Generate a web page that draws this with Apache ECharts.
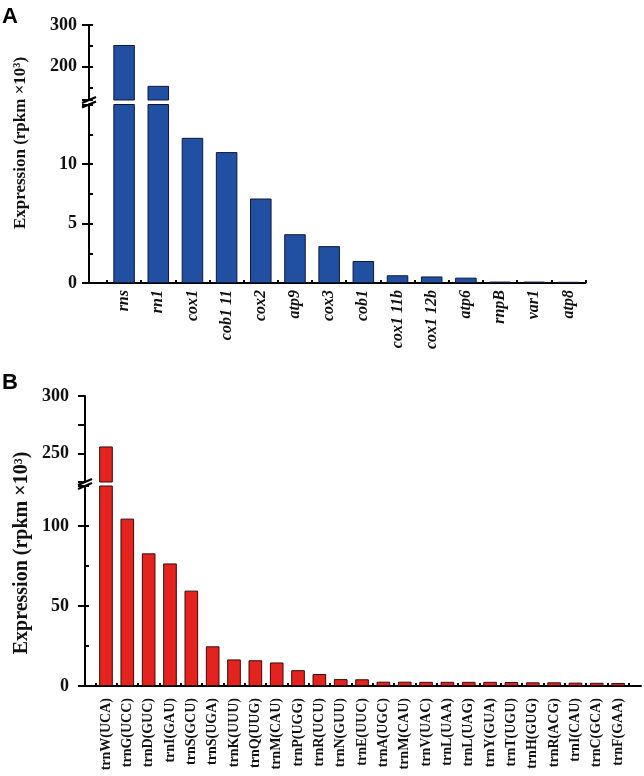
<!DOCTYPE html>
<html><head><meta charset="utf-8">
<script src="https://cdn.jsdelivr.net/npm/echarts@6/dist/echarts.min.js"></script>
<style>html,body{margin:0;padding:0;background:#fff}#c{width:644px;height:776px}</style>
</head><body><div id="c"></div>
<script>
// ---- data ----
const genesA = ['rns','rn1','cox1','cob1 11','cox2','atp9','cox3','cob1','cox1 11b','cox1 12b','atp6','rnpB','var1','atp8'];
const exprA  = [252, 154, 12.2, 11.0, 7.1, 4.1, 3.1, 1.85, 0.65, 0.55, 0.45, 0.12, 0.12, 0.1];
const trnaB  = ['trnW(UCA)','trnG(UCC)','trnD(GUC)','trnI(GAU)','trnS(GCU)','trnS(UGA)','trnK(UUU)','trnQ(UUG)','trnM(CAU)','trnP(UGG)','trnR(UCU)','trnN(GUU)','trnE(UUC)','trnA(UGC)','trnM(CAU)','trnV(UAC)','trnL(UAA)','trnL(UAG)','trnY(GUA)','trnT(UGU)','trnH(GUG)','trnR(ACG)','trnI(CAU)','trnC(GCA)','trnF(GAA)'];
const exprB  = [256, 104.6, 82.9, 76.6, 59.6, 24.8, 16.6, 16.1, 14.7, 9.9, 7.5, 4.3, 4.2, 2.7, 2.7, 2.6, 2.6, 2.6, 2.6, 2.5, 2.3, 2.3, 2.1, 2.0, 1.9];
const A_UPPER_RANGE = [120, 300], A_LOWER_RANGE = [0, 15];
const B_UPPER_RANGE = [225, 300], B_LOWER_RANGE = [0, 125];
const A_UPPER_LABELS = [200, 300], A_LOWER_LABELS = [0, 5, 10];
const B_UPPER_LABELS = [250, 300], B_LOWER_LABELS = [0, 50, 100];
const Y_TITLE = 'Expression (rpkm ×10³)';

// ---- layout ----
const LA = {axisX: 89, barX: 107, right: 585.5, upTop: 25, upH: 75, lowTop: 104.5, lowH: 178.5};
const LB = {axisX: 85, barX: 95.3, barRight: 628.8, right: 641, upTop: 396, upH: 86, lowTop: 486, lowH: 200};

const serif = 'Liberation Serif, Times New Roman, serif';
const chart = echarts.init(document.getElementById('c'), null, {renderer: 'canvas'});

function lbl(list){ return v => list.indexOf(v) >= 0 ? String(v) : ''; }
const tickLbl = {fontFamily: serif, fontWeight: 'bold', fontSize: 18, color: '#111'};
const lineStyle = {color: '#000', width: 2};

const grids = [
  {left: LA.barX, width: LA.right - LA.barX, top: LA.upTop, height: LA.upH},
  {left: LA.barX, width: LA.right - LA.barX, top: LA.lowTop, height: LA.lowH},
  {left: LA.axisX, width: LA.right - LA.axisX, top: LA.upTop, height: LA.upH},
  {left: LA.axisX, width: LA.right - LA.axisX, top: LA.lowTop, height: LA.lowH},
  {left: LB.barX, width: LB.barRight - LB.barX, top: LB.upTop, height: LB.upH},
  {left: LB.barX, width: LB.barRight - LB.barX, top: LB.lowTop, height: LB.lowH},
  {left: LB.axisX, width: LB.right - LB.axisX, top: LB.upTop, height: LB.upH},
  {left: LB.axisX, width: LB.right - LB.axisX, top: LB.lowTop, height: LB.lowH}
];

const hiddenCat = (g, data) => ({type: 'category', gridIndex: g, data, show: false});
const catAxis = (g, data, labelStyle, margin) => ({
  type: 'category', gridIndex: g, data,
  axisLine: {show: false},
  axisTick: {show: true, inside: true, length: 3, lineStyle: {color: '#000', width: 2}},
  axisLabel: Object.assign({interval: 0, rotate: 90, margin, color: '#111'}, labelStyle),
  splitLine: {show: false}
});
const lineX = (g) => ({type: 'value', gridIndex: g, min: 0, max: 1, axisLine: {show: true, onZero: false, lineStyle}, axisTick: {show: false}, axisLabel: {show: false}, splitLine: {show: false}});
const hideX = (g) => ({type: 'value', gridIndex: g, min: 0, max: 1, show: false});

const xAxis = [
  hiddenCat(0, genesA),
  catAxis(1, genesA, {fontFamily: serif, fontWeight: 'bold', fontStyle: 'italic', fontSize: 16}, 7),
  hideX(2), lineX(3),
  hiddenCat(4, trnaB),
  catAxis(5, trnaB, {fontFamily: serif, fontWeight: 'bold', fontSize: 14}, 12),
  hideX(6), lineX(7)
];

const hideY = (g, r) => ({type: 'value', gridIndex: g, min: r[0], max: r[1], show: false});
const mainY = (g, r, opts, labels, margin) => Object.assign({
  type: 'value', gridIndex: g, min: r[0], max: r[1],
  axisLine: {show: true, onZero: false, lineStyle},
  axisTick: {show: true, length: 7, lineStyle: {color: '#000', width: 2}},
  axisLabel: Object.assign({formatter: lbl(labels), margin, showMinLabel: true, showMaxLabel: true}, tickLbl),
  splitLine: {show: false}
}, opts);
const minorY = (g, r, opts) => Object.assign({
  type: 'value', gridIndex: g, min: r[0], max: r[1],
  axisLine: {show: false}, axisLabel: {show: false},
  axisTick: {show: true, length: 4, lineStyle: {color: '#000', width: 2}},
  splitLine: {show: false}
}, opts);

const yAxis = [
  hideY(0, A_UPPER_RANGE),
  hideY(1, A_LOWER_RANGE),
  mainY(2, A_UPPER_RANGE, {splitNumber: 2}, A_UPPER_LABELS, 12),
  minorY(2, A_UPPER_RANGE, {splitNumber: 4}),
  mainY(3, A_LOWER_RANGE, {interval: 5}, A_LOWER_LABELS, 12),
  minorY(3, A_LOWER_RANGE, {interval: 2.5}),
  hideY(4, B_UPPER_RANGE),
  hideY(5, B_LOWER_RANGE),
  mainY(6, B_UPPER_RANGE, {interval: 25}, B_UPPER_LABELS, 16),
  mainY(7, B_LOWER_RANGE, {interval: 50}, B_LOWER_LABELS, 16),
  minorY(7, B_LOWER_RANGE, {interval: 25})
];

const blue = {color: '#2150a2', borderColor: '#10183a', borderWidth: 1};
const red = {color: '#e5231e', borderColor: '#3a0a0a', borderWidth: 1};
const series = [
  {type: 'bar', xAxisIndex: 0, yAxisIndex: 0, barWidth: '63%', itemStyle: blue, clip: true, silent: true,
   data: exprA.map(v => v > A_LOWER_RANGE[1] ? v : '-')},
  {type: 'bar', xAxisIndex: 1, yAxisIndex: 1, barWidth: '63%', itemStyle: blue, clip: true, silent: true, data: exprA},
  {type: 'bar', xAxisIndex: 4, yAxisIndex: 6, barWidth: '64%', itemStyle: red, clip: true, silent: true,
   data: exprB.map(v => v > B_LOWER_RANGE[1] ? v : '-')},
  {type: 'bar', xAxisIndex: 5, yAxisIndex: 7, barWidth: '64%', itemStyle: red, clip: true, silent: true, data: exprB}
];

function breakMark(x, yUp, yLow) {
  const mk = y => ({type: 'line', shape: {x1: x - 7, y1: y + 3, x2: x + 7, y2: y - 3}, style: {stroke: '#000', lineWidth: 2}});
  return [mk(yUp), mk(yLow)];
}

const graphic = [
  {type: 'text', x: 2, y: 6, style: {text: 'A', fontFamily: 'Liberation Sans, Arial', fontWeight: 'bold', fontSize: 22, fill: '#000'}},
  {type: 'text', x: 2, y: 372, style: {text: 'B', fontFamily: 'Liberation Sans, Arial', fontWeight: 'bold', fontSize: 22, fill: '#000'}},
  {type: 'text', x: 21, y: 143, rotation: Math.PI / 2, style: {text: Y_TITLE, fontFamily: serif, fontWeight: 'bold', fontSize: 17, fill: '#111', align: 'center', verticalAlign: 'middle'}},
  {type: 'text', x: 22, y: 553, rotation: Math.PI / 2, style: {text: Y_TITLE, fontFamily: serif, fontWeight: 'bold', fontSize: 20, fill: '#111', align: 'center', verticalAlign: 'middle'}}
].concat(breakMark(LA.axisX, LA.upTop + LA.upH, LA.lowTop))
 .concat(breakMark(LB.axisX, LB.upTop + LB.upH, LB.lowTop));

chart.setOption({animation: false, backgroundColor: '#fff', grid: grids, xAxis, yAxis, series, graphic});
</script></body></html>
